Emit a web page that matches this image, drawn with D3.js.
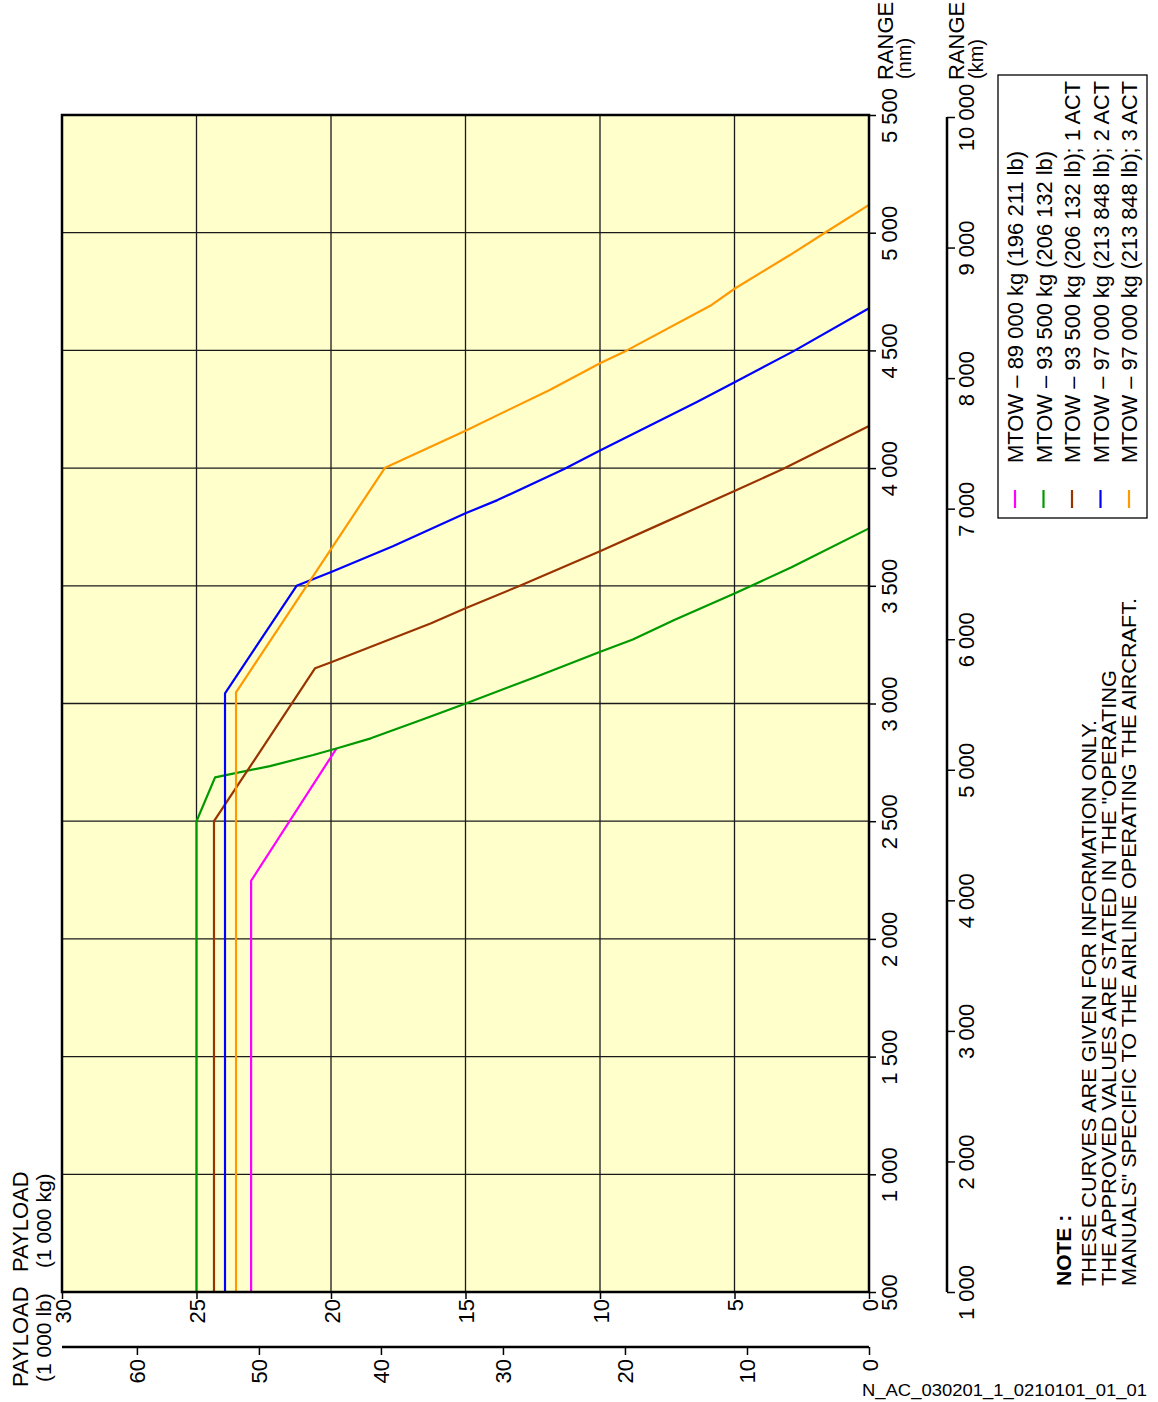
<!DOCTYPE html>
<html><head><meta charset="utf-8">
<script src="https://cdn.jsdelivr.net/npm/d3@7"></script>
<style>
html,body{margin:0;padding:0;background:#fff;}
text{font-family:"Liberation Sans",Arial,Helvetica,sans-serif;fill:#000;}
</style></head>
<body>
<svg id="c" width="1158" height="1402"></svg>
<script>
// ---- data ----
const payloadTicksKg = [0,5,10,15,20,25,30];          // 1 000 kg
const payloadTicksLb = [0,10,20,30,40,50,60];         // 1 000 lb
const rangeTicksNm = [500,1000,1500,2000,2500,3000,3500,4000,4500,5000,5500];
const rangeTicksKm = [1000,2000,3000,4000,5000,6000,7000,8000,9000,10000];

const seriesNames = [
  "MTOW – 89 000 kg (196 211 lb)",
  "MTOW – 93 500 kg (206 132 lb)",
  "MTOW – 93 500 kg (206 132 lb); 1 ACT",
  "MTOW – 97 000 kg (213 848 lb); 2 ACT",
  "MTOW – 97 000 kg (213 848 lb); 3 ACT"
];
const seriesColors = ["#ff00ff","#009900","#993300","#0000ff","#ff9900"];

// payload (1 000 kg) and range (nm) for each curve
const mtow89Payload = [22.97, 22.97, 19.79];
const mtow89Range   = [500, 2247, 2810];
const mtow935Payload = [25.0, 25.0, 24.31, 22.27, 20.66, 19.8, 18.52, 16.6, 14.99, 12.37, 9.99, 8.78, 7.24, 4.98, 2.88, 0];
const mtow935Range   = [500, 2500, 2686, 2734, 2781, 2809, 2852, 2932, 3000, 3114, 3220, 3272, 3355, 3468, 3579, 3744];
const mtow935Act1Payload = [24.35, 24.35, 20.59, 19.97, 16.3, 15.0, 13.0, 10.0, 7.75, 4.96, 3.2, 0];
const mtow935Act1Range   = [500, 2500, 3150, 3176, 3340, 3405, 3499, 3647, 3762, 3905, 3996, 4179];
const mtow97Act2Payload = [23.94, 23.94, 21.28, 19.97, 17.7, 15.0, 13.81, 11.33, 10.0, 6.38, 4.96, 2.8, 0];
const mtow97Act2Range   = [500, 3043, 3500, 3560, 3668, 3808, 3864, 3996, 4075, 4282, 4367, 4497, 4679];
const mtow97Act3Payload = [23.53, 23.53, 17.99, 15.0, 11.87, 10.0, 9.0, 5.85, 4.97, 2.94, 1.64, 0];
const mtow97Act3Range   = [500, 3047, 4002, 4159, 4332, 4445, 4500, 4693, 4764, 4905, 5000, 5118];

const noteLines = [
  "THESE CURVES ARE GIVEN FOR INFORMATION ONLY.",
  "THE APPROVED VALUES ARE STATED IN THE \"OPERATING",
  "MANUALS\" SPECIFIC TO THE AIRLINE OPERATING THE AIRCRAFT."
];

// ---- build ----
const series = [
  [mtow89Payload, mtow89Range],
  [mtow935Payload, mtow935Range],
  [mtow935Act1Payload, mtow935Act1Range],
  [mtow97Act2Payload, mtow97Act2Range],
  [mtow97Act3Payload, mtow97Act3Range]
].map(([p,r],i)=>({name:seriesNames[i], color:seriesColors[i], pts:p.map((v,j)=>({p:v,r:r[j]}))}));

const svg = d3.select("#c");
const L=62, R=869, T=115, B=1292;
const x = d3.scaleLinear().domain([0,30]).range([R,L]);
const y = d3.scaleLinear().domain([500,5500]).range([B,T]);
const xLb = d3.scaleLinear().domain([0,30*2.20462]).range([R,L]);
const yKm = d3.scaleLinear().domain([1000,10000]).range([B,117]);
const fmt = v => d3.format(",")(v).replace(/,/g," ");
const TICK_FS = 22;

// background
svg.append("rect").attr("x",L).attr("y",T).attr("width",R-L).attr("height",B-T).attr("fill","#ffffcc");

// grid
svg.append("g").selectAll("line").data(payloadTicksKg).join("line")
  .attr("x1",d=>x(d)).attr("x2",d=>x(d)).attr("y1",T).attr("y2",B)
  .attr("stroke","#1a1a1a").attr("stroke-width",1.3);
svg.append("g").selectAll("line").data(rangeTicksNm).join("line")
  .attr("y1",d=>y(d)).attr("y2",d=>y(d)).attr("x1",L).attr("x2",R)
  .attr("stroke","#1a1a1a").attr("stroke-width",1.3);

// curves
const line = d3.line().x(d=>x(d.p)).y(d=>y(d.r));
svg.append("g").selectAll("path").data(series).join("path")
  .attr("d",d=>line(d.pts)).attr("fill","none")
  .attr("stroke",d=>d.color).attr("stroke-width",2.2).attr("stroke-linejoin","round");

// frame
svg.append("rect").attr("x",L).attr("y",T).attr("width",R-L).attr("height",B-T)
  .attr("fill","none").attr("stroke","#000").attr("stroke-width",2.5);

// payload kg axis (bottom)
const axKg = svg.append("g").attr("transform",`translate(0,${B})`)
  .call(d3.axisBottom(x).tickValues(payloadTicksKg).tickSize(7).tickFormat(fmt));
axKg.select(".domain").remove();
axKg.selectAll(".tick line").attr("stroke","#000").attr("stroke-width",1.5);
axKg.selectAll(".tick text").attr("font-size",TICK_FS).attr("text-anchor","end")
  .attr("dy",null).attr("y",null).attr("x",null)
  .attr("transform","translate(8,7) rotate(-90)").attr("font-family",null);

// payload lb axis
const yLbAx = 1347;
const axLb = svg.append("g").attr("transform",`translate(0,${yLbAx})`)
  .call(d3.axisBottom(xLb).tickValues(payloadTicksLb).tickSize(8).tickSizeOuter(0).tickFormat(fmt));
axLb.select(".domain").attr("d",`M${L},0H${R}`).attr("stroke","#000").attr("stroke-width",2.5);
axLb.selectAll(".tick line").attr("stroke","#000").attr("stroke-width",1.5);
axLb.selectAll(".tick text").attr("font-size",TICK_FS).attr("text-anchor","end")
  .attr("dy",null).attr("y",null).attr("x",null)
  .attr("transform","translate(8,12) rotate(-90)").attr("font-family",null);

// range nm axis (right)
const axNm = svg.append("g").attr("transform",`translate(${R},0)`)
  .call(d3.axisRight(y).tickValues(rangeTicksNm).tickSize(7).tickFormat(fmt));
axNm.select(".domain").remove();
axNm.selectAll(".tick line").attr("stroke","#000").attr("stroke-width",1.5);
axNm.selectAll(".tick text").attr("font-size",TICK_FS).attr("text-anchor","middle")
  .attr("dy",null).attr("y",null).attr("x",null)
  .attr("transform","translate(28,0) rotate(-90)").attr("font-family",null);

// range km axis
const xKmAx = 947;
const axKm = svg.append("g").attr("transform",`translate(${xKmAx},0)`)
  .call(d3.axisRight(yKm).tickValues(rangeTicksKm).tickSize(8).tickSizeOuter(0).tickFormat(fmt));
axKm.select(".domain").attr("d",`M0,${yKm(1000)}V${yKm(10000)}`).attr("stroke","#000").attr("stroke-width",2.5);
axKm.selectAll(".tick line").attr("stroke","#000").attr("stroke-width",1.5);
axKm.selectAll(".tick text").attr("font-size",TICK_FS).attr("text-anchor","middle")
  .attr("dy",null).attr("y",null).attr("x",null)
  .attr("transform","translate(27,0) rotate(-90)").attr("font-family",null);

// rotated helper
function rtext(tx,ty,str,opts={}){
  const t = svg.append("text").attr("transform",`translate(${tx},${ty}) rotate(-90)`)
    .attr("font-size",opts.size||21).attr("text-anchor",opts.anchor||"start").text(str);
  if(opts.weight) t.attr("font-weight",opts.weight);
  if(opts.len) t.attr("textLength",opts.len).attr("lengthAdjust","spacingAndGlyphs");
  return t;
}

// axis titles
rtext(28,1272,"PAYLOAD",{size:22});
rtext(51,1268,"(1 000 kg)",{size:21});
rtext(28,1387,"PAYLOAD",{size:22});
rtext(51,1382,"(1 000 lb)",{size:21});
rtext(893,80,"RANGE",{size:22});
rtext(911,79,"(nm)",{size:20});
rtext(964,80,"RANGE",{size:22});
rtext(983,79,"(km)",{size:20});

// legend
svg.append("rect").attr("x",998).attr("y",75).attr("width",149).attr("height",443)
  .attr("fill","#fff").attr("stroke","#000").attr("stroke-width",1.3);
const legX = [1015,1043.5,1072,1100.5,1129];
const legLen = [312,312,382,382,382];
series.forEach((s,i)=>{
  svg.append("line").attr("x1",legX[i]).attr("x2",legX[i]).attr("y1",490).attr("y2",508)
    .attr("stroke",s.color).attr("stroke-width",2.2);
  rtext(legX[i]+8,463,s.name,{size:22,len:legLen[i]});
});

// note
rtext(1071,1286,"NOTE :",{size:21,weight:"bold"});
const noteX=[1096,1116,1136];
const noteLen=[566,616,688];
noteLines.forEach((l,i)=>rtext(noteX[i],1286,l,{size:21,len:noteLen[i]}));

// footer
svg.append("text").attr("x",862).attr("y",1396).attr("font-size",17)
  .attr("textLength",285).attr("lengthAdjust","spacingAndGlyphs")
  .text("N_AC_030201_1_0210101_01_01");
</script>
</body></html>
